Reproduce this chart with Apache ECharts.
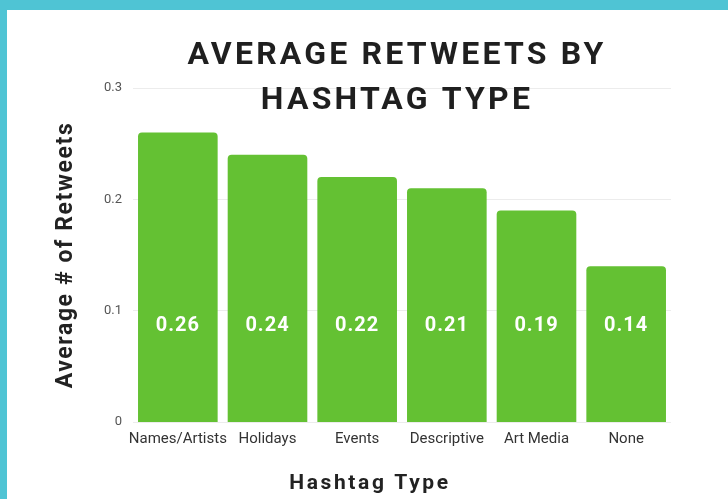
<!DOCTYPE html>
<html>
<head>
<meta charset="utf-8">
<script src="https://cdn.jsdelivr.net/npm/echarts@6/dist/echarts.min.js"></script>
<style>
  html, body { margin: 0; padding: 0; background: #ffffff; }
  #chart { width: 728px; height: 499px; }
</style>
</head>
<body>
<div id="chart"></div>
<script>
// Average retweets per hashtag category
const categories = ['Names/Artists', 'Holidays', 'Events', 'Descriptive', 'Art Media', 'None'];
const avgRetweets = [0.26, 0.24, 0.22, 0.21, 0.19, 0.14];
const yTicks = [0, 0.1, 0.2, 0.3];

// Extra tracking for the bold headline-style texts (keyed by canvas font string)
const tracking = [
  { match: 'bold 32px', spacing: '3.2px' },
  { match: 'bold 23px', spacing: '1.6px' },
  { match: 'bold 21px', spacing: '2.6px' },
  { match: 'bold 20px', spacing: '1px' }
];
const baseFillText = CanvasRenderingContext2D.prototype.fillText;
CanvasRenderingContext2D.prototype.fillText = function (text, x, y, maxWidth) {
  if ('letterSpacing' in this) {
    const font = this.font;
    const rule = tracking.find(r => font.indexOf(r.match) !== -1);
    this.letterSpacing = rule ? rule.spacing : '0px';
    this.font = font;
  }
  return maxWidth === undefined ? baseFillText.call(this, text, x, y) : baseFillText.call(this, text, x, y, maxWidth);
};

const chart = echarts.init(document.getElementById('chart'), null, { renderer: 'canvas' });

chart.setOption({
  backgroundColor: '#ffffff',
  animation: false,
  title: {
    text: 'AVERAGE RETWEETS BY\nHASHTAG TYPE',
    left: 392,
    top: 28,
    textAlign: 'center',
    textStyle: {
      fontFamily: 'Roboto',
      fontWeight: 'bold',
      fontSize: 32,
      lineHeight: 45,
      color: '#1f1f1f'
    }
  },
  grid: { left: 133, right: 57, top: 88, bottom: 76 },
  xAxis: {
    type: 'category',
    data: categories,
    name: 'Hashtag Type',
    nameLocation: 'middle',
    nameGap: 51,
    nameTextStyle: {
      fontFamily: 'Roboto', fontWeight: 'bold', fontSize: 21, color: '#222',
      padding: [0, 64, 0, 0]
    },
    axisLine: { show: false },
    axisTick: { show: false },
    axisLabel: { fontFamily: 'Roboto', fontSize: 15, color: '#333', margin: 10, interval: 0 }
  },
  yAxis: {
    type: 'value',
    min: yTicks[0],
    max: yTicks[yTicks.length - 1],
    interval: 0.1,
    name: 'Average # of Retweets',
    nameLocation: 'middle',
    nameGap: 55,
    nameTextStyle: { fontFamily: 'Roboto', fontWeight: 'bold', fontSize: 23, color: '#222' },
    axisLine: { show: false },
    axisTick: { show: false },
    axisLabel: {
      fontFamily: 'Roboto', fontSize: 13, color: '#555', margin: 11,
      formatter: v => (v === 0 ? '0' : v.toFixed(1))
    },
    splitLine: { lineStyle: { color: '#ececec', width: 1 } }
  },
  series: [{
    type: 'bar',
    data: avgRetweets,
    barCategoryGap: '11.2%',
    itemStyle: { color: '#64c133', borderRadius: [4, 4, 0, 0] },
    label: {
      show: true,
      position: 'insideBottom',
      distance: 86,
      color: '#ffffff',
      fontFamily: 'Roboto',
      fontWeight: 'bold',
      fontSize: 20,
      formatter: p => p.value.toFixed(2)
    }
  }],
  graphic: [
    { type: 'rect', left: 0, top: 0, shape: { width: 728, height: 10 }, style: { fill: '#4fc4d4' }, z: 100 },
    { type: 'rect', left: 0, top: 0, shape: { width: 7, height: 499 }, style: { fill: '#4fc4d4' }, z: 100 }
  ]
});
</script>
</body>
</html>
